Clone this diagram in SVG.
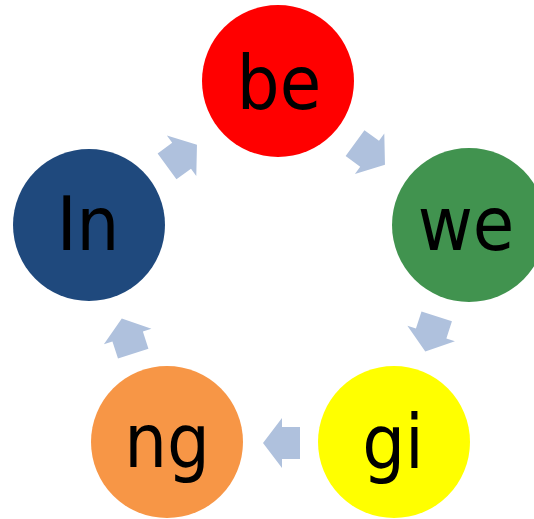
<svg xmlns="http://www.w3.org/2000/svg" width="534" height="519" viewBox="0 0 534 519">
<defs>
<style>
.lbl{font-family:"DejaVu Sans Condensed","DejaVu Sans",sans-serif;font-size:75px;fill:#000;text-anchor:middle}
.arr{fill:#AFC1DD}
</style>
<polygon id="arrow" points="-18.5,-16 -0.5,-16 -0.5,-25 18.5,0 -0.5,25 -0.5,16 -18.5,16"/>
</defs>
<rect width="534" height="519" fill="#fff"/>
<g id="connectors" class="arr">
<use href="#arrow" transform="translate(370,154) rotate(36)"/>
<use href="#arrow" transform="translate(431,334) rotate(108)"/>
<use href="#arrow" transform="translate(281.5,443) rotate(180)"/>
<use href="#arrow" transform="translate(127.5,336) rotate(252)"/>
<use href="#arrow" transform="translate(182,155.5) rotate(324)"/>
</g>
<g id="node-be"><circle cx="278" cy="81" r="76" fill="#FF0000"/><text class="lbl" x="279" y="109">be</text></g>
<g id="node-we"><circle cx="469" cy="225" r="77" fill="#41934F"/><text class="lbl" x="466" y="250">we</text></g>
<g id="node-gi"><circle cx="394" cy="442" r="76" fill="#FFFF00"/><text class="lbl" x="393" y="468">gi</text></g>
<g id="node-ng"><circle cx="167" cy="442" r="76" fill="#F79646"/><text class="lbl" x="167" y="467">ng</text></g>
<g id="node-In"><circle cx="89" cy="225" r="76" fill="#1F497D"/><text class="lbl" x="88" y="250">In</text></g>
</svg>
